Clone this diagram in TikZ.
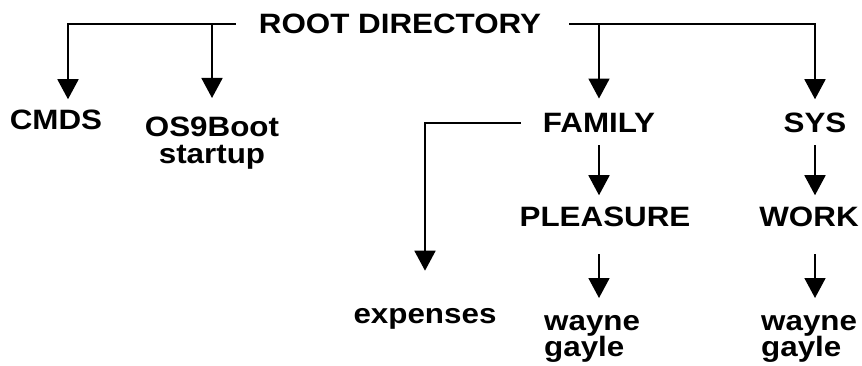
\documentclass[tikz,border=0pt]{standalone}
\usepackage{fontspec}
\newfontfamily\dirfont{Liberation Sans Bold}[FakeStretch=1.12]
\usetikzlibrary{arrows.meta}

\begin{document}
\begin{tikzpicture}[x=1pt,y=-1pt,
    dir/.style={inner sep=0pt, font=\dirfont\fontsize{28}{26.5}\selectfont},
    link/.style={line width=1.8pt, -{Triangle[width=21pt,length=20pt]}}]
    \useasboundingbox (0,0) rectangle (862,366);
    % directories
    \node[dir, anchor=base] (root) at (400,34) {ROOT DIRECTORY};
    \node[dir, anchor=base] (cmds) at (56,130) {CMDS};
    \node[dir, anchor=north, align=center] (boot) at (212,117) {OS9Boot\\startup};
    \node[dir, anchor=base] (family) at (599,133) {FAMILY};
    \node[dir, anchor=base] (sys) at (815,133) {SYS};
    \node[dir, anchor=base] (pleasure) at (605,227) {PLEASURE};
    \node[dir, anchor=base] (work) at (809,227) {WORK};
    \node[dir, anchor=base] (expenses) at (425,323) {expenses};
    \node[dir, anchor=north west, align=left] (famfiles) at (544,315) {wayne\\gayle};
    \node[dir, anchor=north west, align=left] (workfiles) at (761,315) {wayne\\gayle};
    % root branches
    \draw[link, shorten >=11pt] ([xshift=-23pt]root.west) -| ([xshift=12pt]cmds.north);
    \draw[link, shorten >=19pt] (boot.north |- root.west) -- (boot.north);
    \draw[link, shorten >=14pt] ([xshift=28pt]root.east) -| (sys.north);
    \draw[link, shorten >=15pt] (family.north |- root.east) -- (family.north);
    % subdirectories
    \draw[link, shorten >=37pt] ([xshift=-22pt]family.west) -| (expenses.north);
    \draw[link, shorten <=12pt, shorten >=12pt] (family.south) -- (family.south |- pleasure.north);
    \draw[link, shorten <=12pt, shorten >=12pt] (sys.south) -- (sys.south |- work.north);
    \draw[link, shorten <=27pt, shorten >=17pt] (family.south |- pleasure.south) -- (family.south |- famfiles.north);
    \draw[link, shorten <=27pt, shorten >=17pt] (sys.south |- work.south) -- (sys.south |- workfiles.north);
\end{tikzpicture}
\end{document}
